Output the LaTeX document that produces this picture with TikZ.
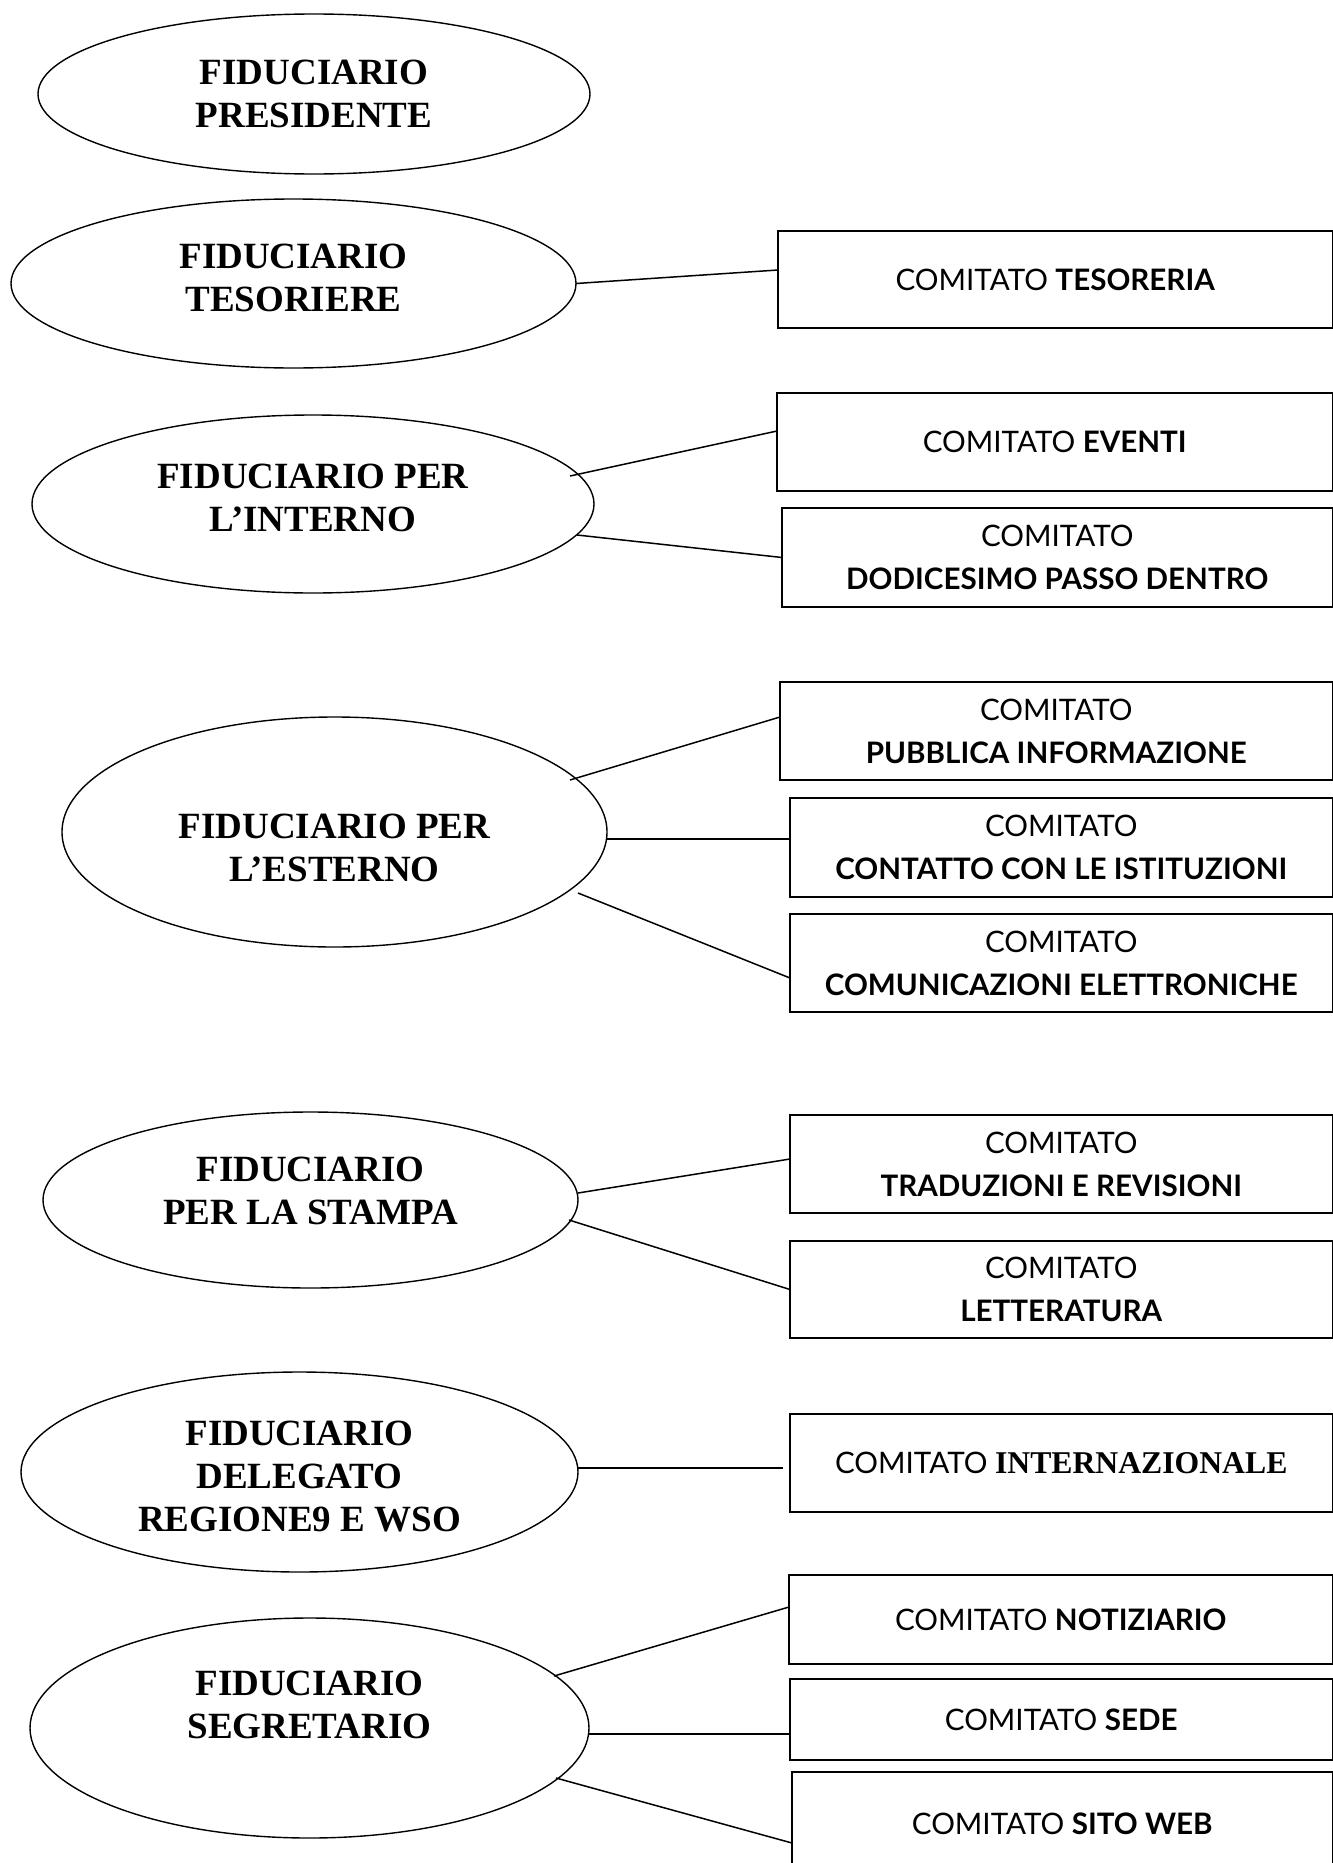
\documentclass[tikz,border=0pt]{standalone}
\usepackage{fontspec}
\usetikzlibrary{shapes.geometric}
\newfontfamily\tnr{Liberation Serif}
\newfontfamily\lato{Lato}
\begin{document}
\begin{tikzpicture}[x=0.5pt,y=-0.5pt,
  fid/.style={draw, ellipse, line width=0.7pt, inner sep=0pt, outer sep=0pt},
  fidtext/.style={align=center, inner sep=0pt, font=\tnr\bfseries\fontsize{18.5}{21.5}\selectfont},
  cbox/.style={draw, rectangle, line width=0.85pt, inner sep=0pt, outer sep=0pt, anchor=north west, align=center, font=\lato\fontsize{14.8}{21.5}\selectfont},
  link/.style={line width=0.75pt}]
\useasboundingbox (0,0) rectangle (1333,1863);

% ellipses
\node[fid, minimum width=276pt, minimum height=80pt] (e1) at (314,94) {};
\node[fid, minimum width=282.5pt, minimum height=84.5pt] (e2) at (293.5,283.5) {};
\node[fid, minimum width=281pt, minimum height=89pt] (e3) at (313,504) {};
\node[fid, minimum width=272.5pt, minimum height=115pt] (e4) at (334.5,832) {};
\node[fid, minimum width=267.5pt, minimum height=88pt] (e5) at (310.5,1200) {};
\node[fid, minimum width=278.5pt, minimum height=100pt] (e6) at (299.5,1472) {};
\node[fid, minimum width=279.5pt, minimum height=110pt] (e7) at (309.5,1728) {};

\node[fidtext] (t1) at (314,93.5) {FIDUCIARIO\\PRESIDENTE};
\node[fidtext] (t2) at (293.5,278) {FIDUCIARIO\\TESORIERE};
\node[fidtext] (t3) at (313,498) {FIDUCIARIO PER\\L’INTERNO};
\node[fidtext] (t4) at (334.5,848) {FIDUCIARIO PER\\L’ESTERNO};
\node[fidtext] (t5) at (310.5,1191) {FIDUCIARIO\\PER LA STAMPA};
\node[fidtext] (t6) at (299.5,1476.5) {FIDUCIARIO\\DELEGATO\\REGIONE9 E WSO};
\node[fidtext] (t7) at (309.5,1704.5) {FIDUCIARIO\\SEGRETARIO};

% boxes
\node[cbox, minimum width=277.25pt, minimum height=48.5pt] (btes) at (778,231) {COMITATO \textbf{TESORERIA}};
\node[cbox, minimum width=277.75pt, minimum height=49pt] (beve) at (777,393) {COMITATO \textbf{EVENTI}};
\node[cbox, minimum width=275.25pt, minimum height=49.5pt] (bdod) at (782,508) {COMITATO\\\textbf{DODICESIMO PASSO DENTRO}};
\node[cbox, minimum width=276.25pt, minimum height=49pt] (bpub) at (780,682) {COMITATO\\\textbf{PUBBLICA INFORMAZIONE}};
\node[cbox, minimum width=271.25pt, minimum height=49.5pt] (bcon) at (790,798) {COMITATO\\\textbf{CONTATTO CON LE ISTITUZIONI}};
\node[cbox, minimum width=271.25pt, minimum height=49pt] (bcom) at (790,914) {COMITATO\\\textbf{COMUNICAZIONI ELETTRONICHE}};
\node[cbox, minimum width=271.25pt, minimum height=49pt] (btra) at (790,1115) {COMITATO\\\textbf{TRADUZIONI E REVISIONI}};
\node[cbox, minimum width=271.25pt, minimum height=48.5pt] (blet) at (790,1241) {COMITATO\\\textbf{LETTERATURA}};
\node[cbox, minimum width=271.25pt, minimum height=49pt] (bint) at (790,1414) {COMITATO {\tnr\bfseries\fontsize{15.85}{21.5}\selectfont INTERNAZIONALE}};
\node[cbox, minimum width=271.75pt, minimum height=44.5pt] (bnot) at (789,1575) {COMITATO \textbf{NOTIZIARIO}};
\node[cbox, minimum width=271.25pt, minimum height=40.5pt] (bsed) at (790,1679) {COMITATO \textbf{SEDE}};
\node[cbox, minimum width=270.25pt, minimum height=52pt] (bsit) at (792,1772) {COMITATO \textbf{SITO WEB}};

% connectors
\draw[link] (e2.east) -- ([shift={(0,-9.5)}]btes.west);
\draw[link] ([shift={(257,-28)}]e3.center) -- ([shift={(0,-11)}]beve.west);
\draw[link] ([shift={(264,31)}]e3.center) -- (bdod.west);
\draw[link] ([shift={(235.5,-52)}]e4.center) -- ([shift={(0,-14)}]bpub.west);
\draw[link] ([shift={(0,7)}]e4.east) -- ([shift={(0,-8.5)}]bcon.west);
\draw[link] ([shift={(243.5,61)}]e4.center) -- ([shift={(0,15)}]bcom.west);
\draw[link] ([shift={(267.5,-7)}]e5.center) -- ([shift={(0,-5)}]btra.west);
\draw[link] ([shift={(258.5,20)}]e5.center) -- (blet.west);
\draw[link] ([shift={(0,-4)}]e6.east) -- ([shift={(-7,5)}]bint.west);
\draw[link] ([shift={(244.5,-52)}]e7.center) -- ([shift={(0,-12.5)}]bnot.west);
\draw[link] ([shift={(0,6)}]e7.east) -- ([shift={(0,14.5)}]bsed.west);
\draw[link] ([shift={(246.5,50)}]e7.center) -- ([shift={(0,19)}]bsit.west);
\end{tikzpicture}
\end{document}
